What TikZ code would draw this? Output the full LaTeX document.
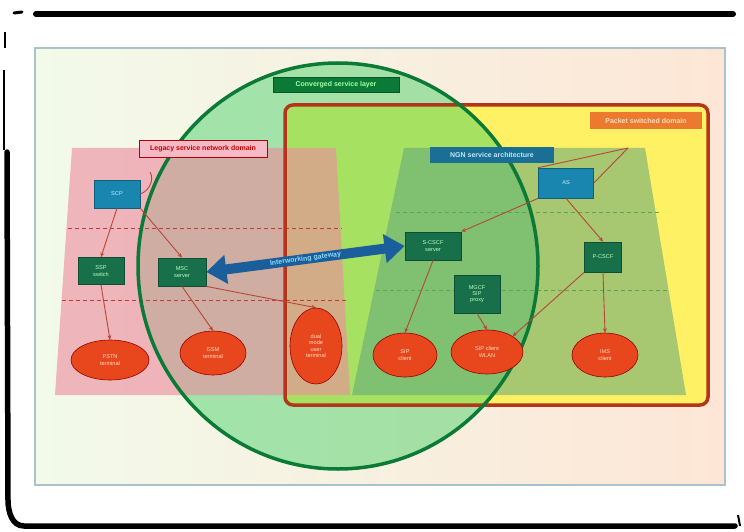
\documentclass[tikz,border=0pt]{standalone}
\usepackage{fontspec}
\setmainfont{Liberation Sans}
\usetikzlibrary{arrows.meta,shapes.geometric}
\definecolor{panelA}{HTML}{F2FAEA}
\definecolor{panelB}{HTML}{FDE6D6}
\definecolor{panelrule}{HTML}{A9C2CC}
\definecolor{pinkzone}{HTML}{EC8C9E}
\definecolor{yellowzone}{HTML}{FFF163}
\definecolor{redrule}{HTML}{B3361C}
\definecolor{greenzone}{HTML}{3ECF62}
\definecolor{greenrule}{HTML}{0B7A36}
\definecolor{trapzone}{HTML}{5FA57E}
\definecolor{boxgreen}{HTML}{17704A}
\definecolor{boxblue}{HTML}{1886AE}
\definecolor{nodered}{HTML}{E8471E}
\definecolor{linkred}{HTML}{B5483A}
\definecolor{arrowblue}{HTML}{1A5E9C}
\definecolor{tagorange}{HTML}{EC7A2E}
\definecolor{tagblue}{HTML}{1B6E94}
\tikzset{
  x=1pt, y=-1pt,
  tiny/.style={font=\fontsize{5.6}{6.2}\selectfont, align=center},
  tagfont/.style={font=\fontsize{7}{8}\selectfont\bfseries, align=center},
  gbox/.style={tiny, draw=boxgreen!70!black, line width=0.8pt, fill=boxgreen, text=green!25, inner sep=1pt},
  bbox/.style={tiny, draw=boxblue!70!black, line width=0.6pt, fill=boxblue, text=cyan!20, inner sep=1pt},
  rnode/.style={tiny, ellipse, draw=red!60!black, line width=0.6pt, fill=nodered, text=orange!25, inner sep=0pt},
  link/.style={draw=linkred, line width=0.9pt, -{Stealth[length=4.5pt,width=4pt]}},
  plain link/.style={draw=linkred, line width=0.9pt},
  zoneline/.style={dash pattern=on 4pt off 3pt, line width=0.9pt},
  tag/.style={tagfont, inner sep=1pt},
}
\begin{document}
\begin{tikzpicture}
\useasboundingbox (0,0) rectangle (744,532);
\fill[white] (0,0) rectangle (744,532);

% hand-drawn outer frame
\draw[line width=6pt, line cap=round] (36,14) -- (733,14);
\draw[line width=3pt, line cap=round] (14,13) -- (22,12);
\draw[line width=1.5pt] (5,32) -- (5,48);
\draw[line width=1.5pt] (4,70) -- (4,150);
\draw[line width=5.5pt, line cap=round] (7,152) -- (8,500) to[out=-90,in=180] (24,526) -- (735,526);
\draw[line width=2pt] (738,515) -- (740,526);

% panel
\shade[left color=panelA, right color=panelB] (35,48) rectangle (725,485);
\draw[panelrule, line width=1.5pt] (35,48) rectangle (725,485);

% coloured zones
\fill[yellowzone, rounded corners=8pt] (285,105) rectangle (708,405);
\fill[greenzone, opacity=0.45] (338,266) ellipse [x radius=200, y radius=203];
\fill[pinkzone, opacity=0.62] (72,148) -- (336,148) -- (350,395) -- (55,395) -- cycle;
\fill[trapzone, opacity=0.55] (404,148) -- (645,148) -- (686,395) -- (352,395) -- cycle;

% zone separators
\draw[zoneline, draw=red!55!gray] (68,228) -- (342,228);
\draw[zoneline, draw=red!55!gray] (62,300) -- (346,300);
\draw[zoneline, draw=green!30!gray] (396,212) -- (660,212);
\draw[zoneline, draw=green!30!gray] (376,290) -- (670,290);

% zone borders
\draw[redrule, line width=3.5pt, rounded corners=8pt] (285,105) rectangle (708,405);
\draw[greenrule, line width=3.5pt] (338,266) ellipse [x radius=200, y radius=203];

% zone titles
\node[tag, fill=pinkzone!60, draw=red!70!black, line width=1pt, text=red!80!black, minimum width=128pt, minimum height=16pt] (tpink) at (203,149) {Legacy service network domain};
\node[tag, fill=greenrule, draw=greenrule!70!black, text=green!35, minimum width=126pt, minimum height=15pt] (tgreen) at (336,85) {Converged service layer};
\node[tag, fill=tagorange, text=orange!25, minimum width=112pt, minimum height=17pt] (torange) at (646,121) {Packet switched domain};
\node[tag, fill=tagblue, text=cyan!25, minimum width=124pt, minimum height=15pt] (tblue) at (492,155) {NGN service architecture};

% nodes, legacy side
\node[bbox, minimum width=46pt, minimum height=28pt] (scp) at (117,194) {SCP};
\node[gbox, minimum width=46pt, minimum height=27pt] (ssp) at (101,271) {SSP\\switch};
\node[gbox, minimum width=48pt, minimum height=28pt] (msc) at (182,272) {MSC\\server};
\node[rnode, minimum width=78pt, minimum height=40pt] (u1) at (110,360) {PSTN\\terminal};
\node[rnode, minimum width=66pt, minimum height=44pt] (u2) at (213,353) {GSM\\terminal};
\node[rnode, minimum width=52pt, minimum height=76pt] (u3) at (316,346) {dual\\mode\\user\\terminal};

% nodes, packet side
\node[bbox, minimum width=55pt, minimum height=30pt] (as) at (566,183) {AS};
\node[gbox, minimum width=56pt, minimum height=28pt] (cscf) at (433,246) {S-CSCF\\server};
\node[gbox, minimum width=46pt, minimum height=38pt] (gw) at (477,294) {MGCF\\SIP\\proxy};
\node[gbox, minimum width=37pt, minimum height=30pt] (pc) at (603,257) {P-CSCF};
\node[rnode, minimum width=64pt, minimum height=44pt] (u4) at (405,355) {SIP\\client};
\node[rnode, minimum width=72pt, minimum height=44pt] (u5) at (487,352) {SIP client\\WLAN};
\node[rnode, minimum width=66pt, minimum height=44pt] (u6) at (605,355) {IMS\\client};

% signalling links
\coordinate (corner) at (628,148);
\coordinate (loop) at (150,172);
\draw[plain link] (scp.east) to[out=20,in=-60] (loop);
\draw[link] (scp.south) -- (ssp.north);
\draw[link] (scp.south east) -- (msc.north);
\draw[link] (ssp.south) -- (u1.north);
\draw[link] (msc.south) -- (u2.north);
\draw[link] (msc.south east) -- (u3.north);
\draw[plain link] (as.north west) -- (corner);
\draw[plain link] (as.east) -- (corner);
\draw[link] (as.south west) -- (cscf.north east);
\draw[link] (as.south) -- (pc.north);
\draw[link] (cscf.south) -- (u4.north);
\draw[link] (gw.south) -- (u5.north);
\draw[link] (pc.south) -- (u6.north);
\draw[link] (pc.south west) -- (u5.north east);

% interworking arrow
\draw[arrowblue, line width=10pt, {Triangle[width=28pt,length=20pt]}-{Triangle[width=28pt,length=20pt]}]
  (msc.east) -- (cscf.west)
  node[midway, sloped, tagfont, text=cyan!45] (iw) {Interworking gateway};
\end{tikzpicture}
\end{document}
